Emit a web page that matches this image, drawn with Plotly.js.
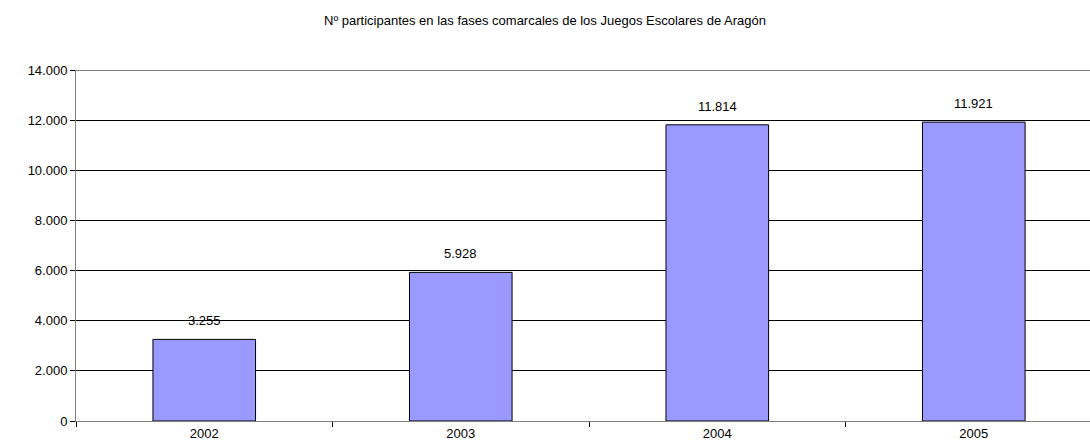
<!DOCTYPE html>
<html>
<head>
<meta charset="utf-8">
<script src="https://cdn.plot.ly/plotly-3.0.1.min.js"></script>
<style>html,body{margin:0;padding:0;background:#fff;}#chart{width:1090px;height:448px;}</style>
</head>
<body>
<div id="chart"></div>
<script>
const years = ['2002', '2003', '2004', '2005'];
const participants = [3255, 5928, 11814, 11921];
const yTicks = [0, 2000, 4000, 6000, 8000, 10000, 12000, 14000];
const chartTitle = 'Nº participantes en las fases comarcales de los Juegos Escolares de Aragón';

const fmt = v => v.toString().replace(/\B(?=(\d{3})+(?!\d))/g, '.');

const trace = {
  type: 'bar',
  x: years,
  y: participants,
  width: 0.4,
  marker: {color: '#9999FF', line: {color: '#000000', width: 1}},
  hoverinfo: 'skip'
};

const annotations = years.map((yr, i) => ({
  x: i, y: participants[i], xref: 'x', yref: 'y',
  text: fmt(participants[i]), showarrow: false,
  yanchor: 'bottom', yshift: 9,
  font: {family: 'Liberation Sans, Arial, sans-serif', size: 13, color: '#000'}
}));

const layout = {
  width: 1090, height: 448,
  margin: {l: 76, r: 0, t: 70, b: 27},
  paper_bgcolor: '#ffffff', plot_bgcolor: '#ffffff',
  separators: ',.',
  font: {family: 'Liberation Sans, Arial, sans-serif', size: 13, color: '#000'},
  title: {text: chartTitle, x: 0.5, xanchor: 'center', y: 0.955, yanchor: 'middle',
          font: {family: 'Liberation Sans, Arial, sans-serif', size: 13, color: '#000'}},
  showlegend: false,
  xaxis: {
    type: 'category', range: [-0.5, 3.453],
    showgrid: false, zeroline: false,
    showline: true, linecolor: '#808080', linewidth: 1,
    ticks: 'outside', tickson: 'boundaries', ticklen: 5, tickcolor: '#000',
    tickfont: {size: 13}, fixedrange: true
  },
  yaxis: {
    range: [0, 14000], tickvals: yTicks, ticktext: yTicks.map(fmt),
    showgrid: true, gridcolor: '#000000', gridwidth: 1,
    zeroline: false, showline: true, linecolor: '#808080', linewidth: 1,
    ticks: 'outside', ticklen: 5, tickcolor: '#000',
    tickfont: {size: 13}, fixedrange: true
  },
  shapes: [{type: 'line', xref: 'paper', yref: 'y', x0: 0, x1: 1,
            y0: yTicks[yTicks.length - 1], y1: yTicks[yTicks.length - 1],
            line: {color: '#000000', width: 1}}],
  annotations: annotations
};

Plotly.newPlot('chart', [trace], layout, {displayModeBar: false, staticPlot: true});
</script>
</body>
</html>
